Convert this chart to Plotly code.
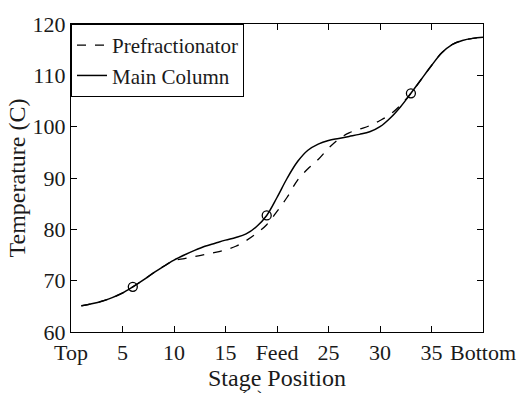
import plotly.graph_objects as go

stages = list(range(1, 41))
main_column = [65.1, 65.5, 66.0, 66.7, 67.6, 68.8, 70.1, 71.5, 72.8, 74.0,
               75.0, 75.9, 76.7, 77.3, 77.9, 78.4, 79.1, 80.5, 82.7, 86.2,
               90.0, 93.2, 95.4, 96.6, 97.3, 97.7, 98.1, 98.5, 99.0, 100.0,
               101.7, 103.9, 106.5, 109.2, 111.9, 114.4, 116.0, 116.8, 117.2, 117.4]
prefractionator = [65.1, 65.5, 66.0, 66.7, 67.6, 68.8, 70.1, 71.5, 72.8, 73.9,
                   74.3, 74.7, 75.1, 75.5, 76.0, 76.7, 77.8, 79.2, 80.9, 83.5,
                   86.3, 89.6, 91.8, 93.6, 95.8, 97.6, 98.8, 99.5, 100.2, 101.2,
                   102.4, 104.2, 106.5, 109.2, 111.9, 114.4, 116.0, 116.8, 117.2, 117.4]
marker_stages = [6, 19, 33]
marker_temps = [68.8, 82.7, 106.5]

tick_vals = [0, 5, 10, 15, 20, 25, 30, 35, 40]
tick_text = ["Top", "5", "10", "15", "Feed", "25", "30", "35", "Bottom"]

FONT = "Liberation Serif, Times New Roman, serif"
TXT = "#1a1a1a"

fig = go.Figure()
fig.add_trace(go.Scatter(x=stages, y=prefractionator, mode="lines",
                         name="Prefractionator", line_shape="spline",
                         line=dict(color="black", width=1.3, dash="dash")))
fig.add_trace(go.Scatter(x=stages, y=main_column, mode="lines",
                         name="Main Column", line_shape="spline",
                         line=dict(color="black", width=1.5)))
fig.add_trace(go.Scatter(x=marker_stages, y=marker_temps, mode="markers",
                         showlegend=False,
                         marker=dict(symbol="circle-open", size=9,
                                     color="black", line=dict(width=1.3))))

axis_common = dict(showgrid=False, zeroline=False, showline=True,
                   linecolor="black", linewidth=1.3, mirror="ticks",
                   ticks="inside", ticklen=6, tickwidth=1, tickcolor="black",
                   tickfont=dict(family=FONT, size=22, color=TXT))

fig.update_xaxes(range=[0, 40], tickvals=tick_vals, ticktext=tick_text,
                 title=dict(text="Stage Position", standoff=0,
                            font=dict(family=FONT, size=24, color=TXT)),
                 **axis_common)
fig.update_yaxes(range=[60, 120], tickvals=[60, 70, 80, 90, 100, 110, 120],
                 title=dict(text="Temperature (C)", standoff=0,
                            font=dict(family=FONT, size=24, color=TXT)),
                 **axis_common)

fig.add_annotation(text="(a)", xref="paper", yref="paper", x=0.44, y=-0.165,
                   xanchor="center", yanchor="top", showarrow=False,
                   font=dict(family=FONT, size=22, color=TXT))

fig.update_layout(
    width=528, height=393,
    margin=dict(l=71, r=43, t=16, b=51),
    paper_bgcolor="white", plot_bgcolor="white",
    font=dict(family=FONT, color=TXT),
    legend=dict(x=0, y=1, xanchor="left", yanchor="top",
                bgcolor="white", bordercolor="black", borderwidth=1,
                font=dict(family=FONT, size=21, color=TXT),
                tracegroupgap=0, itemwidth=30),
)

fig.write_html("out.html")
